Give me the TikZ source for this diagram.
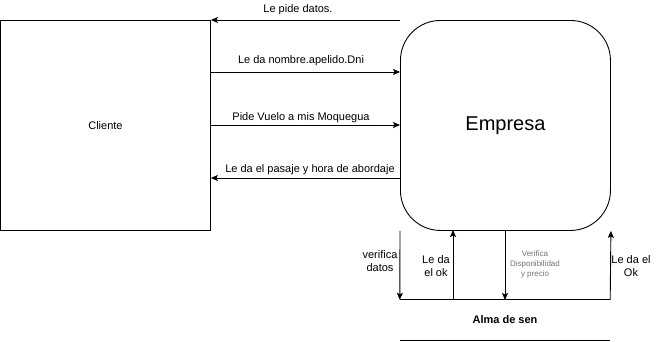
\documentclass[tikz,border=0pt]{standalone}
\usepackage{fontspec}
\setmainfont{Liberation Sans}
\usetikzlibrary{arrows.meta,calc}
\begin{document}
\begin{tikzpicture}[x=1pt,y=-1pt,
  flow/.style={draw=black,line width=0.9pt,-{Stealth[length=7pt,width=6pt,inset=1.5pt]}},
  lbl/.style={font=\fontsize{11}{13}\selectfont,inner sep=0pt,align=center},
  small/.style={font=\fontsize{8}{10}\selectfont,text=black!55,inner sep=0pt,align=center}]
\useasboundingbox (0,0) rectangle (656,341);
% external entity and process
\node[draw,line width=0.9pt,minimum width=210pt,minimum height=210pt,inner sep=0pt,anchor=north west,
      font=\fontsize{11}{13}\selectfont] (cli) at (0,20) {Cliente};
\node[draw,line width=0.9pt,rounded corners=40pt,minimum width=210pt,minimum height=210pt,inner sep=0pt,anchor=north west,
      font=\fontsize{20}{24}\selectfont] (emp) at (400,20) {Empresa};
% data store
\node[minimum width=210pt,minimum height=40pt,inner sep=0pt,font=\bfseries\fontsize{11}{13}\selectfont] (alma) at (505,320) {Alma de sen};
\draw[line width=0.9pt] (alma.north west) -- (alma.north east);
\draw[line width=0.9pt] (alma.south west) -- (alma.south east);
% flows between Cliente and Empresa
\draw[flow] (emp.north west) -- (cli.north east);
\draw[flow] (cli.east |- 0,72) -- (emp.west |- 0,72);
\draw[flow] (cli.east |- 0,125) -- (emp.west |- 0,125);
\draw[flow] (emp.west |- 0,178) -- (cli.east |- 0,178);
\node[lbl] (t1) at (298,10) {Le pide datos.};
\node[lbl] (t2) at (301,61) {Le da nombre.apelido.Dni};
\node[lbl] (t3) at (301,118) {Pide Vuelo a mis Moquegua};
\node[lbl] (t4) at (310,170) {Le da el pasaje y hora de abordaje};
% flows between Empresa and the store
\coordinate (s1) at (453,300);
\coordinate (s2) at (505,300);
\coordinate (e1) at (453,230);
\coordinate (e2) at (505,230);
\draw[flow] (emp.south west) -- (alma.north west);
\draw[flow] (s1) -- (e1);
\draw[flow] (e2) -- (s2);
\draw[flow] (alma.north east) -- (emp.south east);
\node[lbl] (b1) at (380,261) {verifica\\datos};
\node[lbl] (b2) at (436,266) {Le da\\el ok};
\node[small] (b3) at (535,264) {Verifica\\Disponibilidad\\y precio};
\node[lbl] (b4) at (631,266) {Le da el\\Ok};
\end{tikzpicture}
\end{document}
